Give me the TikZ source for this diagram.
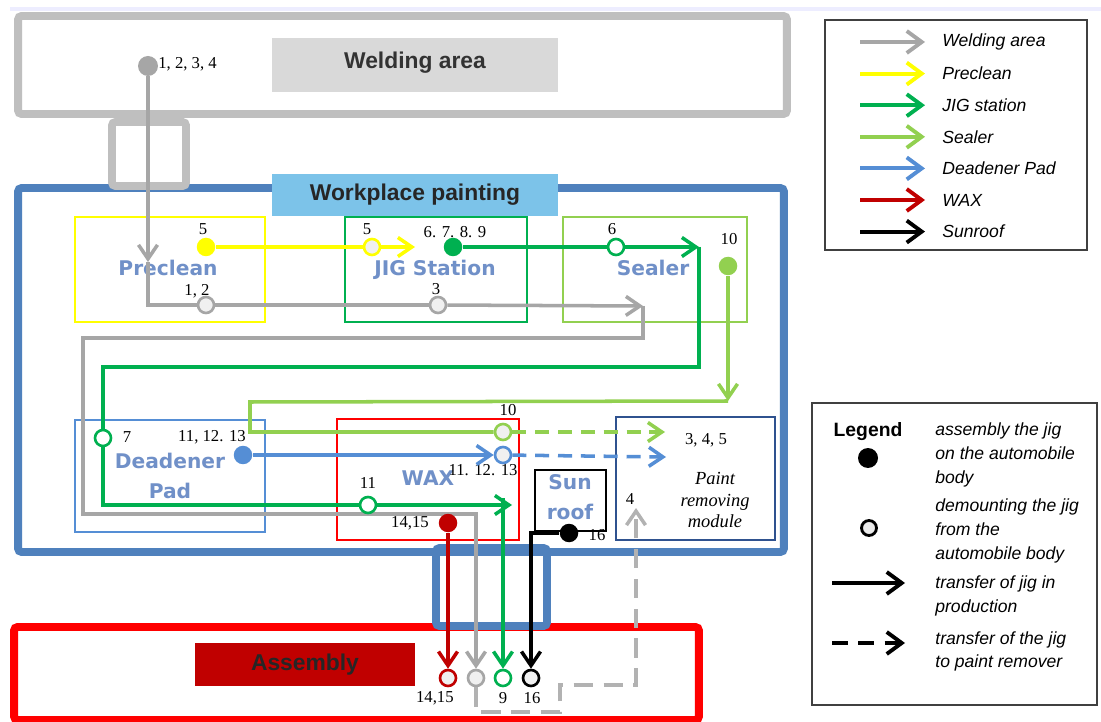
\documentclass[tikz,border=0pt]{standalone}
\usepackage{fontspec}
\setmainfont{Liberation Serif}
\setsansfont{Liberation Sans}
\newfontfamily\artfont{DejaVu Sans}
\usetikzlibrary{arrows.meta}
\definecolor{weldgray}{HTML}{A6A6A6}
\definecolor{zonegray}{HTML}{BFBFBF}
\definecolor{prey}{HTML}{FFFF00}
\definecolor{jigg}{HTML}{00B050}
\definecolor{seal}{HTML}{92D050}
\definecolor{dead}{HTML}{558ED5}
\definecolor{waxred}{HTML}{C00000}
\definecolor{wpblue}{HTML}{4F81BD}
\definecolor{wptag}{HTML}{7CC3E9}
\definecolor{pmblue}{HTML}{2F528F}
\definecolor{artblue}{HTML}{7090C8}

\begin{document}
\begin{tikzpicture}[x=0.02cm,y=-0.02cm,>={Straight Barb[length=0.28cm,width=0.38cm]},
    flow/.style={line width=2pt},
    jigon/.style={circle,fill=#1,inner sep=0pt,minimum size=0.37cm},
    jigoff/.style={circle,draw=#1,fill=black!6,line width=1.5pt,inner sep=0pt,minimum size=0.32cm},
    num/.style={inner sep=0pt,font=\fontsize{9.5}{10}\selectfont},
    zone/.style={draw=#1,line width=4.5pt,fill=white,rounded corners=2pt,inner sep=0pt},
    station/.style={draw=#1,line width=1.6pt,inner sep=0pt},
    zonetag/.style={fill=#1,inner sep=0pt,font=\sffamily\bfseries\fontsize{13}{15}\selectfont},
    art/.style={text=artblue,align=center,font=\artfont\bfseries\fontsize{11.5}{17}\selectfont},
    keytext/.style={anchor=west,align=left,inner sep=0pt,font=\sffamily\itshape\fontsize{10}{13.5}\selectfont},
    keyarrow/.style={line width=2.2pt,-{Straight Barb[length=0.3cm,width=0.44cm]}}]
  \useasboundingbox (0,0) rectangle (1101,722);
  \fill[blue!7] (10,7) rectangle (1101,11);

  % areas
  \node[zone=zonegray,minimum width=15.38cm,minimum height=1.96cm] (weld) at (402.5,65) {};
  \node[zone=wpblue,minimum width=15.32cm,minimum height=7.28cm] (paint) at (401,370) {};
  \node[zone=red,minimum width=13.7cm,minimum height=1.86cm] (asm) at (356.5,673.5) {};
  \node[draw=zonegray,line width=4.5pt,rounded corners=2pt,minimum width=1.48cm,minimum height=1.28cm] (bridge1) at (149,154) {};
  \node[draw=wpblue,line width=4.5pt,rounded corners=2pt,minimum width=2.22cm,minimum height=1.56cm] (bridge2) at (491.5,587) {};
  \node[zonetag=black!15] (weldtag) at (415,65) {\rule[-0.35cm]{0pt}{1.08cm}\makebox[5.72cm]{\raisebox{0.12cm}{\color{black!80}Welding area}}};
  \node[zonetag=wptag] (painttag) at (415,195) {\rule[-0.3cm]{0pt}{0.84cm}\makebox[5.72cm]{\color{black!85}Workplace painting}};
  \node[zonetag=waxred] (asmtag) at (305,664.5) {\rule[-0.32cm]{0pt}{0.86cm}\makebox[4.4cm]{\color{black!85}Assembly}};

  % stations
  \node[station=prey,minimum width=3.8cm,minimum height=2.1cm] (preclean) at (170,269.5) {};
  \node[station=jigg,minimum width=3.64cm,minimum height=2.1cm] (jig) at (436,269.5) {};
  \node[station=seal,minimum width=3.68cm,minimum height=2.1cm] (sealer) at (655,269.5) {};
  \node[station=dead,minimum width=3.8cm,minimum height=2.24cm] (deadener) at (170,476) {};
  \node[station=red,minimum width=3.64cm,minimum height=2.42cm] (wax) at (428,479.5) {};
  \node[station=black,minimum width=1.42cm,minimum height=1.22cm] (sunroof) at (570.5,500.5) {};
  \node[station=pmblue,minimum width=3.18cm,minimum height=2.46cm] (remover) at (695.5,478.5) {};
  \node[art] (t-pre) at (168,268) {Preclean};
  \node[art] (t-jig) at (435,270) {JIG Station};
  \node[art] (t-seal) at (653,268) {Sealer};
  \node[art] (t-dead) at (170,476) {Deadener\\Pad};
  \node[art] (t-wax) at (428,478) {WAX};
  \node[art] (t-sun) at (570,497) {Sun\\roof};
  \node[align=center,font=\itshape\fontsize{10.5}{12.5}\selectfont] (t-rem) at (715,500) {Paint\\removing\\module};
  \node[num] (n-rem) at (706,440) {3, 4, 5};

  % welding area flow
  \node[jigon=weldgray,minimum height=0.4cm] (w0) at (148,66) {};
  \node[num,anchor=west] (n-w0) at (158,64) {1, 2, 3, 4};
  \coordinate (g1) at (148,262);
  \coordinate (g2) at (148,305);
  \node[jigoff=weldgray] (g12) at (206,305) {};
  \node[num] (n-g12) at (197,291) {1, 2};
  \node[jigoff=weldgray] (g3) at (438,305) {};
  \node[num] (n-g3) at (436,289) {3};
  \coordinate (g4) at (643,306);
  \coordinate (g5) at (643,338);
  \coordinate (g6) at (83,338);
  \coordinate (g7) at (83,514);
  \coordinate (g8) at (476,514);
  \node[jigoff=weldgray] (ga) at (476,678) {};
  \draw[flow,weldgray,->] (w0) -- (g1);
  \draw[flow,weldgray] (g1) -- (g2) -- (g12) -- (g3);
  \draw[flow,weldgray,->] (g3) -- (g4);
  \draw[flow,weldgray,->] (g4) -- (g5) -- (g6) -- (g7) -- (g8) -- (ga);
  \coordinate (r1) at (476,712);
  \coordinate (r2) at (560,712);
  \coordinate (r3) at (560,685);
  \coordinate (r4) at (636,685);
  \coordinate (r5) at (636,508);
  \draw[flow,black!30,dash pattern=on 11pt off 6pt,->] (ga) -- (r1) -- (r2) -- (r3) -- (r4) -- (r5);
  \node[num] (n-r5) at (630,499) {4};

  % preclean flow
  \node[jigon=prey] (y5) at (206,247) {};
  \node[num] (n-y5) at (203,229) {5};
  \node[jigoff=prey] (y5b) at (372,247) {};
  \node[num] (n-y5b) at (367,229) {5};
  \coordinate (yt) at (415,247);
  \draw[flow,prey] (y5) -- (y5b);
  \draw[flow,prey,->] (y5b) -- (yt);

  % jig station flow
  \node[jigon=jigg] (j0) at (453,247) {};
  \node[num] (n-j0) at (455,232) {6. 7. 8. 9};
  \node[jigoff=jigg,fill=white] (j6) at (616,247) {};
  \node[num] (n-j6) at (612,229) {6};
  \coordinate (j1) at (699,247);
  \coordinate (j2) at (699,367);
  \coordinate (j3) at (103,367);
  \node[jigoff=jigg,fill=white] (j7) at (103,438) {};
  \node[num] (n-j7) at (127,437) {7};
  \coordinate (j4) at (103,505);
  \node[jigoff=jigg,fill=white] (j11) at (368,505) {};
  \node[num] (n-j11) at (368,483) {11};
  \coordinate (j5) at (512,505);
  \coordinate (j8) at (503,498);
  \node[jigoff=jigg,fill=white] (j9) at (503,678) {};
  \node[num] (n-j9) at (503,698) {9};
  \draw[flow,jigg] (j0) -- (j6);
  \draw[flow,jigg,->] (j6) -- (j1);
  \draw[flow,jigg] (j1) -- (j2) -- (j3) -- (j7) -- (j4) -- (j11);
  \draw[flow,jigg,->] (j11) -- (j5);
  \draw[flow,jigg,->] (j8) -- (j9);

  % sealer flow
  \node[jigon=seal] (s0) at (728,266) {};
  \node[num] (n-s0) at (729,239) {10};
  \coordinate (s1) at (728,401);
  \coordinate (s2) at (250,402);
  \coordinate (s3) at (250,432);
  \node[jigoff=seal] (s10) at (503,432) {};
  \node[num] (n-s10) at (508,410) {10};
  \coordinate (s4) at (665,432);
  \draw[flow,seal,->] (s0) -- (s1);
  \draw[flow,seal] (s1) -- (s2) -- (s3) -- (s10);
  \draw[flow,seal,dash pattern=on 8pt off 5pt,->] (s10) -- (s4);

  % deadener pad flow
  \node[jigon=dead] (d0) at (243,455) {};
  \node[num] (n-d0) at (212,437) {11, 12. 13};
  \node[jigoff=dead] (d1) at (503,455) {};
  \node[num] (n-d1) at (483,470) {11. 12. 13};
  \coordinate (d2) at (666,457);
  \draw[flow,dead,->] (d0) -- (d1);
  \draw[flow,dead,dash pattern=on 8pt off 5pt,->] (d1) -- (d2);

  % wax flow
  \node[jigon=waxred] (x0) at (448,523) {};
  \node[num] (n-x0) at (410,523) {14,15};
  \node[jigoff=waxred] (x1) at (448,678) {};
  \node[num,anchor=east] (n-x1) at (454,698) {14,15};
  \draw[flow,waxred,->] (x0) -- (x1);

  % sunroof flow
  \node[jigon=black] (k0) at (569,533) {};
  \node[num] (n-k0) at (597,535) {16};
  \coordinate (k1) at (531,533);
  \node[jigoff=black] (k2) at (531,678) {};
  \node[num] (n-k2) at (532,698) {16};
  \draw[flow,black,->] (k0) -- (k1) -- (k2);

  % colour key
  \node[draw=black!75,line width=0.8pt,minimum width=5.24cm,minimum height=4.6cm] (key1) at (956,135) {};
  \foreach \c/\t [count=\i, evaluate=\i as \y using 42+31.6*(\i-1)] in
      {weldgray/Welding area,prey/Preclean,jigg/JIG station,seal/Sealer,dead/Deadener Pad,waxred/WAX,black/Sunroof} {
    \coordinate (ka\i) at (860,\y);
    \coordinate (kb\i) at (925,\y);
    \draw[keyarrow,\c] (ka\i) -- (kb\i);
    \node[keytext] (kt\i) at (942,\y) {\t};
  }

  % symbol key
  \node[draw=black!75,line width=0.8pt,minimum width=5.7cm,minimum height=6.04cm] (key2) at (954.5,554) {};
  \node[font=\sffamily\bfseries\fontsize{11}{13}\selectfont] (keyhead) at (868,432) {Legend};
  \node[circle,fill=black,inner sep=0pt,minimum size=0.4cm] (keyon) at (868,458) {};
  \node[circle,draw=black,fill=black!8,line width=1.6pt,inner sep=0pt,minimum size=0.3cm] (keyoff) at (869,528) {};
  \coordinate (kc1) at (832,583);
  \coordinate (kc2) at (905,583);
  \coordinate (kd1) at (832,643);
  \coordinate (kd2) at (905,643);
  \draw[keyarrow,black] (kc1) -- (kc2);
  \draw[keyarrow,black,dash pattern=on 9pt off 6pt] (kd1) -- (kd2);
  \node[keytext] (kt-on) at (935,455) {assembly the jig\\on the automobile\\body};
  \node[keytext] (kt-off) at (935,531) {demounting the jig\\from the\\automobile body};
  \node[keytext] (kt-move) at (935,596) {transfer of jig in\\production};
  \node[keytext] (kt-dash) at (935,651.5) {transfer of the jig\\to paint remover};
\end{tikzpicture}
\end{document}
